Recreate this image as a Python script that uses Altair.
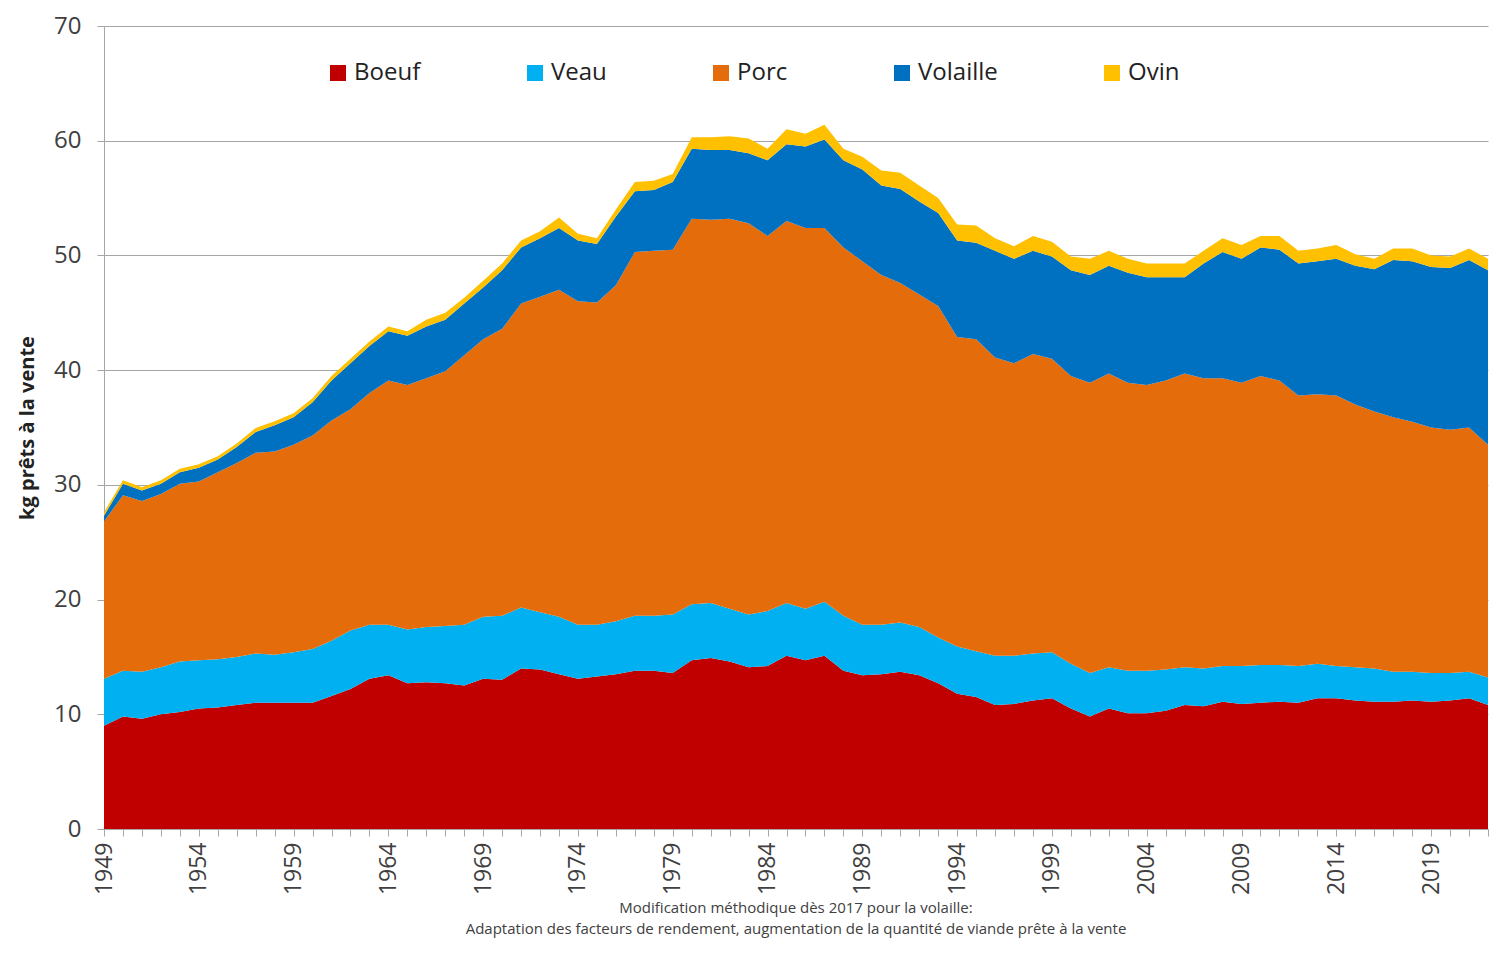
import altair as alt
import pandas as pd

years = list(range(1949, 2023))

boeuf = [9.0, 9.8, 9.6, 10.0, 10.2, 10.5, 10.6, 10.8, 11.0, 11.0, 11.0, 11.0, 11.6, 12.2, 13.1, 13.4, 12.7, 12.8, 12.7, 12.5,
         13.1, 13.0, 14.0, 13.9, 13.5, 13.1, 13.3, 13.5, 13.8, 13.8, 13.6, 14.7, 14.9, 14.6, 14.1, 14.2, 15.1, 14.7, 15.1, 13.8,
         13.4, 13.5, 13.7, 13.4, 12.7, 11.8, 11.5, 10.8, 10.9, 11.2, 11.4, 10.5, 9.8, 10.5, 10.1, 10.1, 10.3, 10.8, 10.7, 11.1,
         10.9, 11.0, 11.1, 11.0, 11.4, 11.4, 11.2, 11.1, 11.1, 11.2, 11.1, 11.2, 11.4, 10.8]

veau = [4.1, 4.0, 4.1, 4.1, 4.4, 4.2, 4.2, 4.2, 4.3, 4.2, 4.4, 4.7, 4.8, 5.1, 4.7, 4.4, 4.7, 4.8, 5.0, 5.3,
        5.4, 5.6, 5.3, 5.0, 5.0, 4.7, 4.5, 4.6, 4.8, 4.8, 5.1, 4.9, 4.8, 4.6, 4.6, 4.8, 4.6, 4.5, 4.7, 4.8,
        4.4, 4.3, 4.3, 4.2, 4.0, 4.1, 4.0, 4.3, 4.2, 4.1, 4.0, 3.9, 3.8, 3.6, 3.7, 3.7, 3.6, 3.3, 3.3, 3.1,
        3.3, 3.3, 3.2, 3.2, 3.0, 2.8, 2.9, 2.9, 2.6, 2.5, 2.5, 2.4, 2.3, 2.4]

porc = [13.7, 15.3, 14.9, 15.1, 15.5, 15.6, 16.3, 16.9, 17.5, 17.7, 18.1, 18.6, 19.2, 19.3, 20.2, 21.3, 21.3, 21.7, 22.2, 23.5,
        24.2, 25.0, 26.5, 27.5, 28.5, 28.2, 28.1, 29.3, 31.7, 31.8, 31.8, 33.6, 33.4, 34.0, 34.1, 32.7, 33.3, 33.2, 32.6, 32.1,
        31.7, 30.5, 29.6, 29.0, 28.9, 27.0, 27.2, 26.0, 25.5, 26.1, 25.6, 25.1, 25.3, 25.6, 25.1, 24.9, 25.2, 25.6, 25.3, 25.1,
        24.7, 25.2, 24.8, 23.6, 23.5, 23.6, 22.9, 22.4, 22.2, 21.8, 21.4, 21.2, 21.3, 20.3]

volaille = [0.5, 1.0, 0.9, 0.9, 1.0, 1.2, 1.1, 1.4, 1.8, 2.3, 2.4, 2.9, 3.5, 4.0, 4.1, 4.3, 4.3, 4.5, 4.5, 4.5,
            4.5, 5.1, 4.9, 5.1, 5.4, 5.3, 5.1, 6.0, 5.3, 5.3, 5.9, 6.1, 6.1, 6.0, 6.1, 6.6, 6.7, 7.1, 7.7, 7.6,
            8.0, 7.8, 8.2, 8.1, 8.1, 8.4, 8.4, 9.3, 9.1, 9.0, 8.9, 9.2, 9.4, 9.4, 9.6, 9.4, 9.0, 8.4, 10.0, 11.0,
            10.8, 11.2, 11.4, 11.5, 11.6, 11.9, 12.1, 12.4, 13.7, 14.0, 14.0, 14.1, 14.6, 15.2]

ovin = [0.3, 0.3, 0.3, 0.3, 0.3, 0.3, 0.3, 0.3, 0.35, 0.35, 0.35, 0.35, 0.4, 0.4, 0.4, 0.4, 0.4, 0.6, 0.6, 0.5,
        0.6, 0.6, 0.6, 0.6, 0.9, 0.6, 0.5, 0.6, 0.8, 0.8, 0.7, 1.0, 1.1, 1.2, 1.3, 1.0, 1.3, 1.1, 1.3, 1.0,
        1.1, 1.3, 1.4, 1.4, 1.3, 1.4, 1.5, 1.1, 1.1, 1.3, 1.3, 1.2, 1.4, 1.3, 1.2, 1.2, 1.2, 1.2, 1.1, 1.2,
        1.2, 1.0, 1.2, 1.1, 1.1, 1.2, 1.0, 0.9, 1.0, 1.1, 1.0, 1.0, 1.0, 1.0]

series_names = ["Boeuf", "Veau", "Porc", "Volaille", "Ovin"]
series_values = [boeuf, veau, porc, volaille, ovin]
series_colors = ["#C00000", "#00B0F0", "#E46C0A", "#0070C0", "#FFC000"]

footnote = ["Modification méthodique dès 2017 pour la volaille:",
            "Adaptation des facteurs de rendement, augmentation de la quantité de viande prête à la vente"]

rows = []
for idx, (name, vals) in enumerate(zip(series_names, series_values)):
    for yr, v in zip(years, vals):
        rows.append({"Année": yr, "Viande": name, "kg": v, "ordre": idx})
df = pd.DataFrame(rows)

FONT = "Open Sans"
TXT = "#404040"

label_expr = "(datum.value - 1949) % 5 == 0 ? datum.label : ''"

chart = alt.Chart(df).mark_area(interpolate="linear", opacity=1).encode(
    x=alt.X("Année:Q",
            scale=alt.Scale(domain=[1949, 2022], nice=False, zero=False),
            axis=alt.Axis(title=None, values=years, format="d", labelExpr=label_expr,
                          labelAngle=270, labelFontSize=23, labelFont=FONT, labelColor=TXT,
                          labelOverlap=False, labelFlush=False, labelPadding=6,
                          tickSize=7, tickColor="#A6A6A6", domainColor="#A6A6A6",
                          grid=False)),
    y=alt.Y("kg:Q", stack="zero",
            scale=alt.Scale(domain=[0, 70], nice=False),
            axis=alt.Axis(title="kg prêts à la vente", values=[0, 10, 20, 30, 40, 50, 60, 70],
                          titleFont=FONT, titleFontSize=20, titleFontWeight="bold", titleColor="#222222",
                          titlePadding=16,
                          labelFont=FONT, labelFontSize=24, labelColor=TXT, labelPadding=16,
                          tickSize=7, tickColor="#A6A6A6", domainColor="#A6A6A6",
                          gridColor="#A6A6A6", gridWidth=1)),
    color=alt.Color("Viande:N",
                    scale=alt.Scale(domain=series_names, range=series_colors),
                    legend=alt.Legend(title=None, orient="none", legendX=222, legendY=35,
                                      direction="horizontal", columns=5, columnPadding=102,
                                      symbolType="square", symbolSize=256, symbolStrokeWidth=0,
                                      symbolOpacity=1, labelFont=FONT, labelFontSize=24,
                                      labelColor="#222222", labelOffset=4, labelLimit=0)),
    order=alt.Order("ordre:Q", sort="ascending"),
).properties(
    width=1384,
    height=803,
    autosize=alt.AutoSizeParams(type="none"),
    padding={"left": 96, "top": 18, "right": 2, "bottom": 116},
    title=alt.TitleParams(text=footnote, orient="bottom", anchor="middle", font=FONT,
                          fontSize=15, fontWeight="normal", color=TXT, lineHeight=21, offset=6),
).configure_view(stroke=None)

chart.save("out.html", embed_options={"renderer": "svg", "actions": False})
